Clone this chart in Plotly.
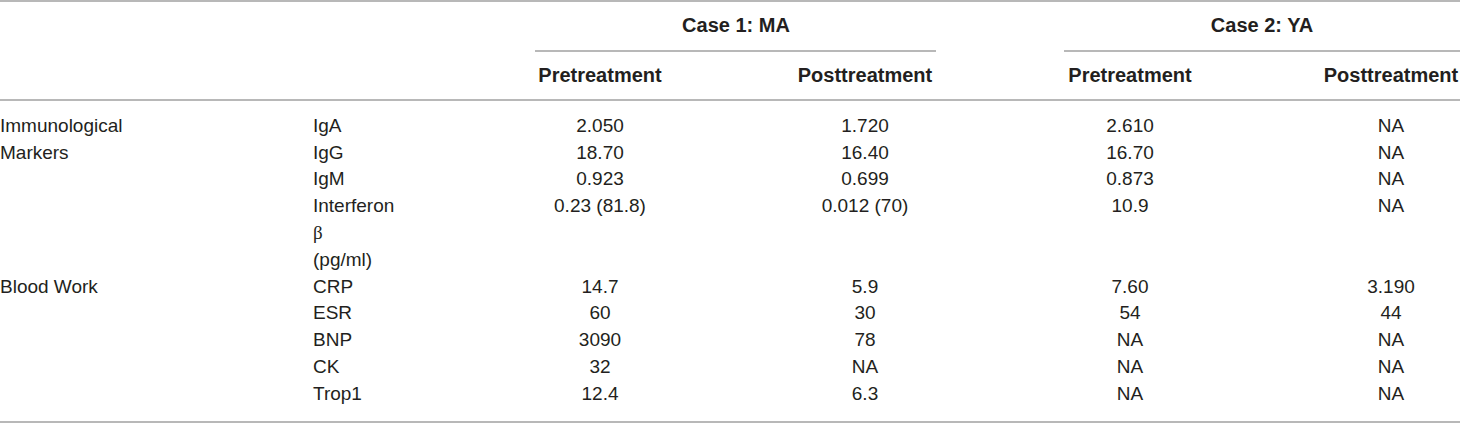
import plotly.graph_objects as go

# table content
groups = ["Immunological", "Markers", "", "", "", "", "Blood Work", "", "", "", ""]
markers = ["IgA", "IgG", "IgM", "Interferon", "β", "(pg/ml)", "CRP", "ESR", "BNP", "CK", "Trop1"]
ma_pre = ["2.050", "18.70", "0.923", "0.23 (81.8)", "", "", "14.7", "60", "3090", "32", "12.4"]
ma_post = ["1.720", "16.40", "0.699", "0.012 (70)", "", "", "5.9", "30", "78", "NA", "6.3"]
ya_pre = ["2.610", "16.70", "0.873", "10.9", "", "", "7.60", "54", "NA", "NA", "NA"]
ya_post = ["NA", "NA", "NA", "NA", "", "", "3.190", "44", "NA", "NA", "NA"]

cases = ["Case 1: MA", "Case 2: YA"]
phases = ["Pretreatment", "Posttreatment", "Pretreatment", "Posttreatment"]

W, H = 1460, 425
TXT = "#231f20"
RULE = "#a0a0a0"
FONT = "Liberation Sans"
SIZE = 19
BSIZE = 20

# layout geometry (pixels)
ROW0, ROW_H = 127, 26.8
col_centers = [600, 865, 1130, 1391]
case_centers = [736, 1262]
case_spans = [(535, 936), (1064, 1460)]


def row_y(i):
    return ROW0 + ROW_H * i


rows = list(range(len(markers)))
ys = [row_y(i) for i in rows]

fig = go.Figure()

# left label columns
fig.add_trace(go.Scatter(
    x=[0] * len(groups), y=ys, text=groups, mode="text",
    textposition="middle right",
    textfont=dict(family=FONT, size=SIZE, color=TXT),
    hoverinfo="skip"))

marker_text = [m if m != "β" else "<span style='font-family:Liberation Serif'>β</span>"
               for m in markers]
fig.add_trace(go.Scatter(
    x=[313] * len(markers), y=ys, text=marker_text, mode="text",
    textposition="middle right",
    textfont=dict(family=FONT, size=SIZE, color=TXT),
    hoverinfo="skip"))

# value columns
for cx, vals in zip(col_centers, [ma_pre, ma_post, ya_pre, ya_post]):
    fig.add_trace(go.Scatter(
        x=[cx] * len(vals), y=ys, text=vals, mode="text",
        textposition="middle center",
        textfont=dict(family=FONT, size=SIZE, color=TXT),
        hoverinfo="skip"))

# header rows
fig.add_trace(go.Scatter(
    x=case_centers, y=[27] * 2, text=cases, mode="text",
    textposition="middle center",
    textfont=dict(family=FONT, size=BSIZE, color=TXT, weight="bold"),
    hoverinfo="skip"))
fig.add_trace(go.Scatter(
    x=col_centers, y=[77] * 4, text=phases, mode="text",
    textposition="middle center",
    textfont=dict(family=FONT, size=BSIZE, color=TXT, weight="bold"),
    hoverinfo="skip"))

# rules
for y0 in [1, 100, 422]:
    fig.add_shape(type="line", x0=0, x1=W, y0=y0, y1=y0,
                  line=dict(color=RULE, width=1.6), layer="below")
for a, b in case_spans:
    fig.add_shape(type="line", x0=a, x1=b, y0=51, y1=51,
                  line=dict(color=RULE, width=1.6), layer="below")

fig.update_layout(
    width=W, height=H,
    margin=dict(l=0, r=0, t=0, b=0),
    paper_bgcolor="white", plot_bgcolor="white",
    showlegend=False,
    xaxis=dict(range=[0, W], visible=False, fixedrange=True),
    yaxis=dict(range=[H, 0], visible=False, fixedrange=True),
)

fig.write_html("out.html", config=dict(displayModeBar=False),
               post_script="document.body.style.margin='0';")
